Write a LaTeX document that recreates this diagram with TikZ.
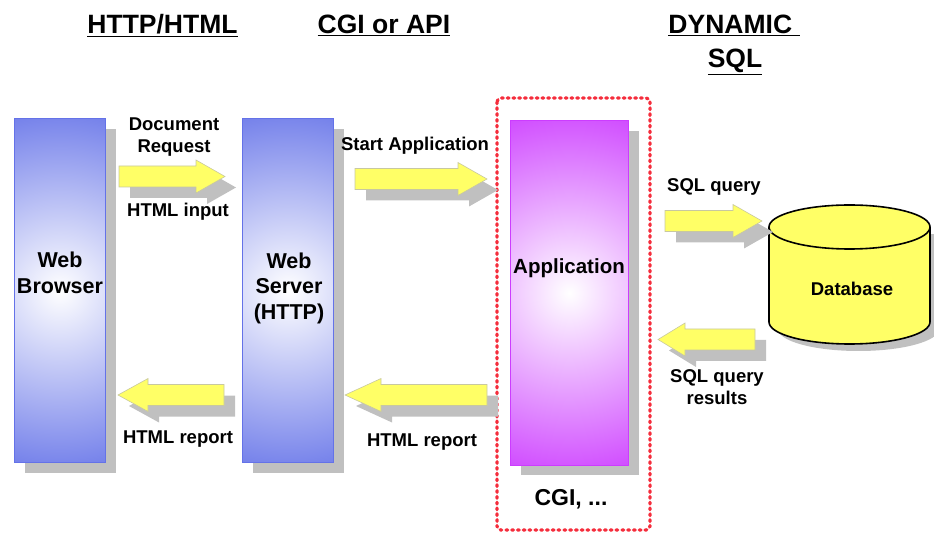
\documentclass[tikz,border=0pt]{standalone}
\usepackage{fontspec}
\setmainfont{Liberation Sans}
\definecolor{boxblue}{RGB}{100,114,232}
\definecolor{boxpurple}{RGB}{204,60,255}
\definecolor{shadowgray}{RGB}{192,192,192}
\definecolor{arrowyellow}{RGB}{255,255,102}
\definecolor{arrowedge}{RGB}{200,200,160}
\definecolor{dotred}{RGB}{245,45,60}
\tikzset{
  bluebox/.style={draw=boxblue, fill=boxblue, line width=0.8pt, inner sep=0pt, anchor=north west,
    path picture={\shade[inner color=white, outer color=boxblue] (path picture bounding box.center) circle (200pt);}},
  purplebox/.style={draw=boxpurple, fill=boxpurple, line width=0.8pt, inner sep=0pt, anchor=north west,
    path picture={\shade[inner color=white, outer color=boxpurple] (path picture bounding box.center) circle (200pt);}},
  yarrow/.style={fill=arrowyellow, draw=arrowedge, line width=0.6pt},
  heading/.style={font=\fontsize{26.5}{34}\selectfont\bfseries, inner sep=0pt, align=center},
  lbl/.style={font=\fontsize{18.5}{21.5}\selectfont\bfseries, inner sep=0pt, align=center},
  boxtxt/.style={font=\fontsize{21.5}{25.5}\selectfont\bfseries, inner sep=0pt, align=center},
}
% #1 tail x, #2 tip x, #3 centre y, #4 signed head length
\newcommand\blockarrow[4]{%
  \begin{scope}[shift={(11,11)}]
    \fill[shadowgray] (#1,{#3-10.5}) -- ({#2-(#4)},{#3-10.5}) -- ({#2-(#4)},{#3-16.5}) -- (#2,#3) -- ({#2-(#4)},{#3+16.5}) -- ({#2-(#4)},{#3+10.5}) -- (#1,{#3+10.5}) -- cycle;
  \end{scope}
  \filldraw[yarrow] (#1,{#3-10.5}) -- ({#2-(#4)},{#3-10.5}) -- ({#2-(#4)},{#3-16.5}) -- (#2,#3) -- ({#2-(#4)},{#3+16.5}) -- ({#2-(#4)},{#3+10.5}) -- (#1,{#3+10.5}) -- cycle;
}
\begin{document}
\begin{tikzpicture}[x=1pt,y=-1pt]
\useasboundingbox (0,0) rectangle (934,534);

% headings
\node[heading, anchor=base] (h1) at (162.5,34) {\underline{HTTP/HTML}};
\node[heading, anchor=base] (h2) at (384,34) {\underline{CGI or API}};
\node[heading, anchor=base] (h3a) at (734,34) {\underline{DYNAMIC\ }};
\node[heading, anchor=base] (h3b) at (735,68) {\underline{SQL}};

% dotted frame
\draw[dotred, line width=3.2pt, line cap=round, dash pattern=on 1.8pt off 4pt, rounded corners=4pt] (497,98) rectangle (650,530);

% boxes with shadows
\fill[shadowgray] (25,129) rectangle (116,473);
\node[bluebox, minimum width=91pt, minimum height=344pt] (browser) at (14,118) {};
\node[boxtxt] (browsertxt) at (60,273) {Web\\Browser};

\fill[shadowgray] (253,129) rectangle (344,473);
\node[bluebox, minimum width=91pt, minimum height=344pt] (server) at (242,118) {};
\node[boxtxt] (servertxt) at (289,288) {Web\\Server\\(HTTP)};

\fill[shadowgray] (521,131) rectangle (639,475);
\node[purplebox, minimum width=118pt, minimum height=345pt] (app) at (510,120) {};
\node[boxtxt, font=\fontsize{20.5}{24}\selectfont\bfseries] (apptxt) at (569,268) {Application};

\node[boxtxt, font=\fontsize{23}{27}\selectfont\bfseries, anchor=base] (cgi) at (571,505) {CGI, ...};

% database cylinder
\begin{scope}[shift={(9,7)}]
  \fill[shadowgray] (769,227) rectangle (930,322);
  \fill[shadowgray] (849.5,322) ellipse [x radius=80.5pt, y radius=22pt];
\end{scope}
\fill[arrowyellow] (769,227) rectangle (930,322);
\fill[arrowyellow] (849.5,322) ellipse [x radius=80.5pt, y radius=22pt];
\draw[line width=1.6pt] (769,227) -- (769,322) arc[start angle=180, end angle=360, x radius=80.5pt, y radius=22pt] -- (930,227);
\filldraw[fill=arrowyellow, line width=1.6pt] (849.5,227) ellipse [x radius=80.5pt, y radius=22pt];
\node[lbl, anchor=base] (db) at (852,296) {Database};

% arrows
\blockarrow{119}{225}{176.5}{29}
\blockarrow{355}{487}{179}{29}
\blockarrow{665}{762}{221}{29}
\blockarrow{224}{118}{395}{-30}
\blockarrow{487}{345}{395}{-36}
\blockarrow{755}{658}{339.5}{-27}

% labels
\node[lbl] (docreq) at (174,137) {Document\\Request};
\node[lbl, anchor=base] (htmlin) at (178,217) {HTML input};
\node[lbl, anchor=base] (startapp) at (415,151) {Start Application};
\node[lbl, anchor=base] (rep1) at (178,443) {HTML report};
\node[lbl, anchor=base] (rep2) at (422,446) {HTML report};
\node[lbl, anchor=base] (sqlq) at (714,192) {SQL query};
\node[lbl] (sqlres) at (717,387) {SQL query\\results};
\end{tikzpicture}
\end{document}
